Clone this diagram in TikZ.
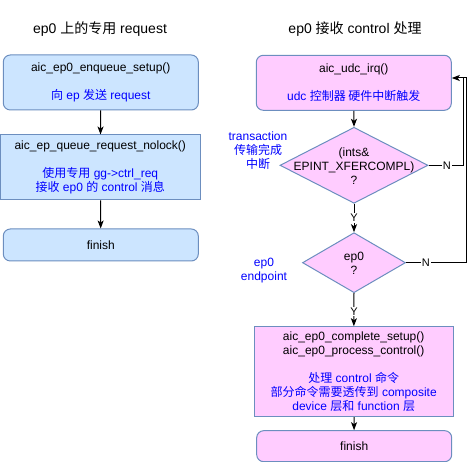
\documentclass[tikz,border=0pt]{standalone}
\usepackage{fontspec}
\setmainfont{Liberation Sans}
\newfontfamily\cjk{Noto Sans CJK SC}
\newcommand{\zh}[1]{{\cjk #1}}
\newcommand{\note}[1]{\textcolor{notetext}{#1}}
\usetikzlibrary{shapes.geometric,arrows.meta}
\definecolor{boxblue}{HTML}{CCE5FF}
\definecolor{boxpink}{HTML}{FFCCFF}
\definecolor{boxedge}{HTML}{6C8EBF}
\definecolor{notetext}{HTML}{0000FF}
\tikzset{
  base/.style={draw=boxedge, line width=1pt, inner sep=0pt, align=center,
    font=\fontsize{12}{14}\selectfont},
  rbox/.style={base, rounded corners=7pt, minimum width=195pt},
  sbox/.style={base, minimum width=200pt},
  dia/.style={base, diamond, fill=boxpink},
  wire/.style={line width=1pt},
  flow/.style={wire, -{Stealth[length=8pt,width=6pt,inset=2pt]}},
  yn/.style={fill=white, inner sep=1pt, font=\fontsize{11}{13}\selectfont},
  title/.style={font=\fontsize{14}{16}\selectfont},
  side/.style={text=notetext, align=center, font=\fontsize{12}{14}\selectfont}
}

\begin{document}
\begin{tikzpicture}[x=1pt, y=-1pt]
\useasboundingbox (0,0) rectangle (475,462);

% Left column: request on ep0
\node[title] (ltitle) at (100,29) {ep0 \zh{上的专用} request};
\node[rbox, fill=boxblue, minimum height=55pt] (enq) at (100.8,82.5)
  {aic\_ep0\_enqueue\_setup()\\[14pt]\note{\zh{向} ep \zh{发送} request}};
\node[sbox, fill=boxblue, minimum height=65pt] (queue) at (100.3,167.5)
  {aic\_ep\_queue\_request\_nolock()\\[14pt]\note{\zh{使用专用} gg->ctrl\_req}\\
   \note{\zh{接收} ep0 \zh{的} control \zh{消息}}};
\node[rbox, fill=boxblue, minimum height=32pt] (lfin) at (100.8,245) {finish};

\draw[flow] (enq) -- (queue);
\draw[flow] (queue) -- (lfin);

% Right column: control handling on ep0
\node[title] (rtitle) at (355,29) {ep0 \zh{接收} control \zh{处理}};
\node[rbox, fill=boxpink, minimum height=55pt] (irq) at (353.8,82.8)
  {aic\_udc\_irq()\\[14pt]\note{udc \zh{控制器 硬件中断触发}}};
\node[dia, minimum width=148pt, minimum height=76pt] (xfer) at (354,165.3) {};
\node[base, draw=none] (xfertext) at (354,166) {(ints\&\\EPINT\_XFERCOMPL)\\?};
\node[dia, minimum width=103pt, minimum height=60pt] (ep) at (354,262.7) {};
\node[base, draw=none] (eptext) at (354,263.7) {ep0\\?};
\node[sbox, fill=boxpink, minimum width=199pt, minimum height=90pt] (setup) at (353.7,371.7)
  {aic\_ep0\_complete\_setup()\\aic\_ep0\_process\_control()\\[14pt]
   \note{\zh{处理} control \zh{命令}}\\
   \note{\zh{部分命令需要透传到} composite}\\
   \note{device \zh{层和} function \zh{层}}};
\node[rbox, fill=boxpink, minimum height=31pt] (rfin) at (354.2,446.2) {finish};

% Side notes
\node[side] (xfernote) at (258,151) {transaction\\\zh{传输完成}\\\zh{中断}};
\node[side] (epnote) at (264,270.5) {ep0\\endpoint};

% Connectors
\coordinate (loopa) at (463,78);
\coordinate (loopb) at (466,78);
\draw[flow] (irq) -- (xfer.north);
\draw[flow] (xfer.south) -- node[yn] {Y} (ep.north);
\draw[flow] (ep.south) -- node[yn, pos=0.55] {Y} (setup);
\draw[flow] (setup) -- (rfin);
\draw[wire] (xfer.east) -- node[yn, pos=0.53] {N} (xfer.east -| loopa) -- (loopa);
\draw[flow] (ep.east) -- node[yn, pos=0.33] {N} (ep.east -| loopb) -- (loopb) -- (irq.east |- loopb);

\end{tikzpicture}
\end{document}
